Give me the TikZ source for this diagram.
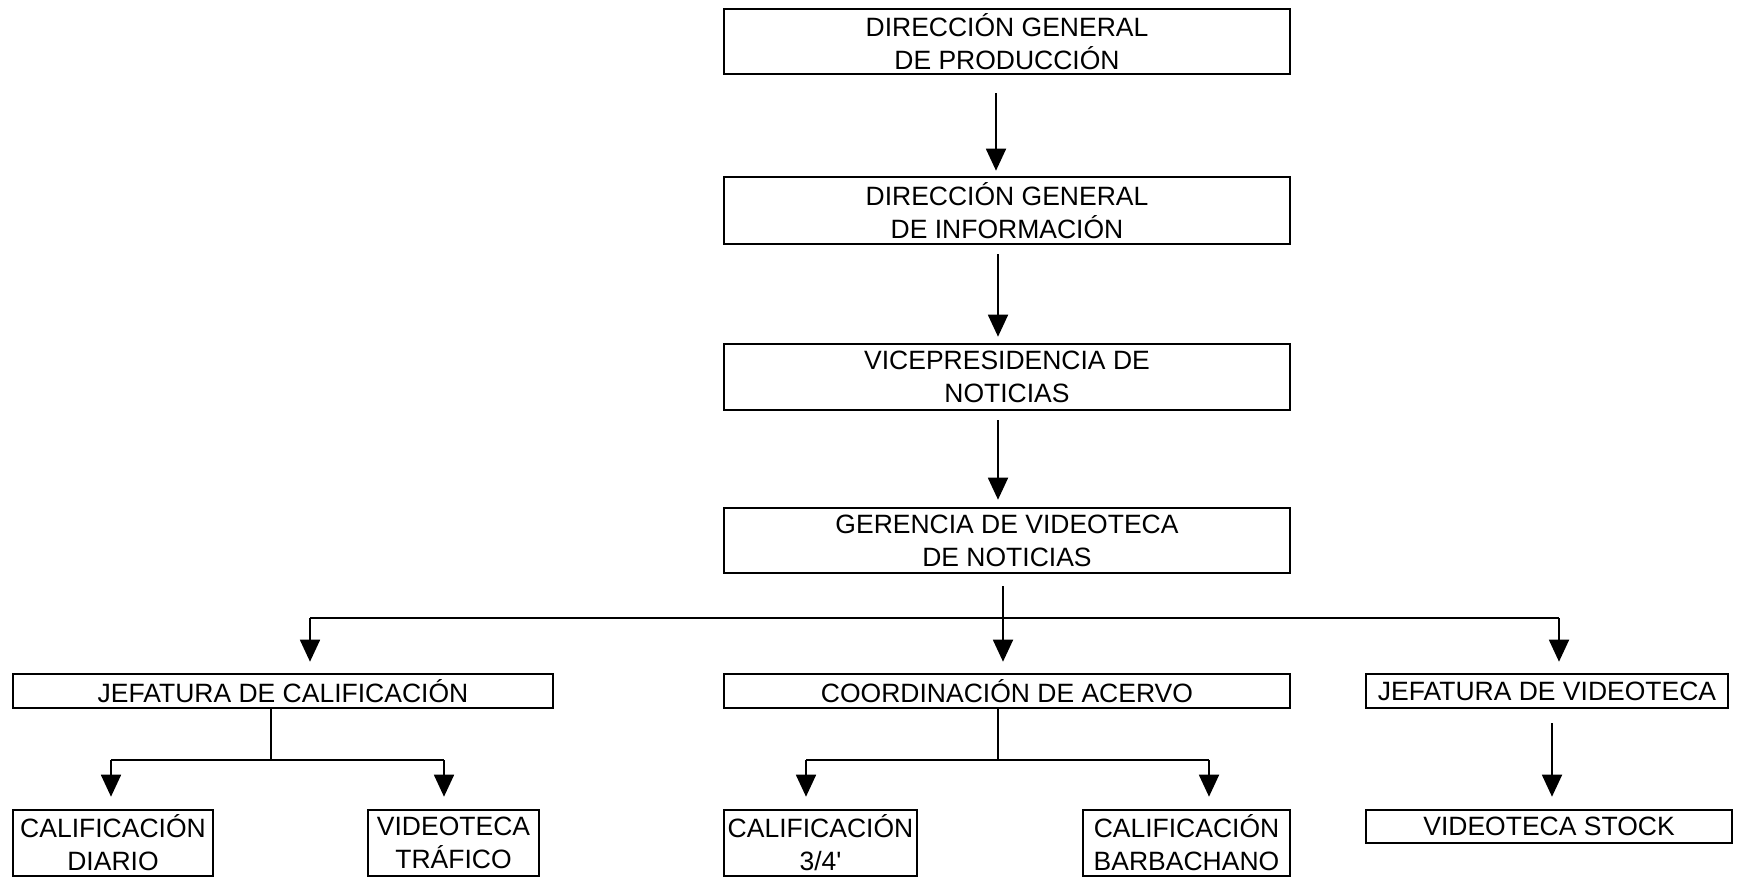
\documentclass[tikz,border=0pt]{standalone}
\usepackage{fontspec}
\setmainfont{Liberation Sans}
\usetikzlibrary{arrows.meta}
\begin{document}
\begin{tikzpicture}[x=1pt,y=-1pt,
  box/.style={draw,line width=2.6pt,inner sep=0pt,align=center,
    font=\fontsize{26.5}{33}\selectfont},
  conn/.style={line width=1.8pt},
  arr/.style={conn,-{Triangle[length=22pt,width=20pt]}}]
\useasboundingbox (0,0) rectangle (1739,878);
\fill[white] (0,0) rectangle (1739,878);
% level 0-3 chain
\node[box,minimum width=566pt,minimum height=65pt] (b1) at (1007,41.5) {DIRECCIÓN GENERAL\\DE PRODUCCIÓN};
\node[box,minimum width=566pt,minimum height=67pt] (b2) at (1007,210.5) {DIRECCIÓN GENERAL\\DE INFORMACIÓN};
\node[box,minimum width=566pt,minimum height=66pt] (b3) at (1007,377) {VICEPRESIDENCIA DE\\NOTICIAS};
\node[box,minimum width=566pt,minimum height=65pt] (b4) at (1007,540.5) {GERENCIA DE VIDEOTECA\\DE NOTICIAS};
% level 4
\node[box,minimum width=540pt,minimum height=34pt] (b5) at (283,691) {JEFATURA DE CALIFICACIÓN};
\node[box,minimum width=566pt,minimum height=34pt] (b6) at (1007,691) {COORDINACIÓN DE ACERVO};
\node[box,minimum width=362pt,minimum height=34pt] (b7) at (1547,691) {JEFATURA DE VIDEOTECA};
% level 5
\node[box,minimum width=200pt,minimum height=66pt] (b8) at (113,843) {CALIFICACIÓN\\DIARIO};
\node[box,minimum width=171pt,minimum height=66pt] (b9) at (453.5,843) {VIDEOTECA\\TRÁFICO};
\node[box,minimum width=193pt,minimum height=66pt] (b10) at (820.5,843) {CALIFICACIÓN\\3/4\textquotesingle};
\node[box,minimum width=207pt,minimum height=66pt] (b11) at (1186.5,843) {CALIFICACIÓN\\BARBACHANO};
\node[box,minimum width=366pt,minimum height=33pt] (b12) at (1549,826.5) {VIDEOTECA STOCK};
% chain arrows
\draw[arr] ([xshift=-11pt,yshift=-18pt]b1.south) -- ([xshift=-11pt,yshift=5pt]b2.north);
\draw[arr] ([xshift=-9pt,yshift=-9pt]b2.south) -- ([xshift=-9pt,yshift=6pt]b3.north);
\draw[arr] ([xshift=-9pt,yshift=-9pt]b3.south) -- ([xshift=-9pt,yshift=7pt]b4.north);
% fan out from b4
\coordinate (hM) at (1003,618);
\coordinate (hL) at (310,618);
\coordinate (hR) at (1559,618);
\draw[conn] ([xshift=-4pt,yshift=-12pt]b4.south) -- (hM);
\draw[conn] (hL) -- (hR);
\draw[arr,shorten >=11pt] (hL) -- (hL |- b5.north);
\draw[arr,shorten >=11pt] (hM) -- (hM |- b6.north);
\draw[arr,shorten >=11pt] (hR) -- (hR |- b7.north);
% from b5
\coordinate (cM) at (271,760);
\coordinate (cL) at (111,760);
\coordinate (cR) at (444,760);
\draw[conn] (cM |- b5.south) -- (cM);
\draw[conn] (cL) -- (cR);
\draw[arr,shorten >=12pt] (cL) -- (cL |- b8.north);
\draw[arr,shorten >=12pt] (cR) -- (cR |- b9.north);
% from b6
\coordinate (dM) at (998,760);
\coordinate (dL) at (806,760);
\coordinate (dR) at (1209,760);
\draw[conn] (dM |- b6.south) -- (dM);
\draw[conn] (dL) -- (dR);
\draw[arr,shorten >=12pt] (dL) -- (dL |- b10.north);
\draw[arr,shorten >=12pt] (dR) -- (dR |- b11.north);
% from b7
\draw[arr] ([xshift=5pt,yshift=-14pt]b7.south) -- ([xshift=3pt,yshift=12pt]b12.north);
\end{tikzpicture}
\end{document}
